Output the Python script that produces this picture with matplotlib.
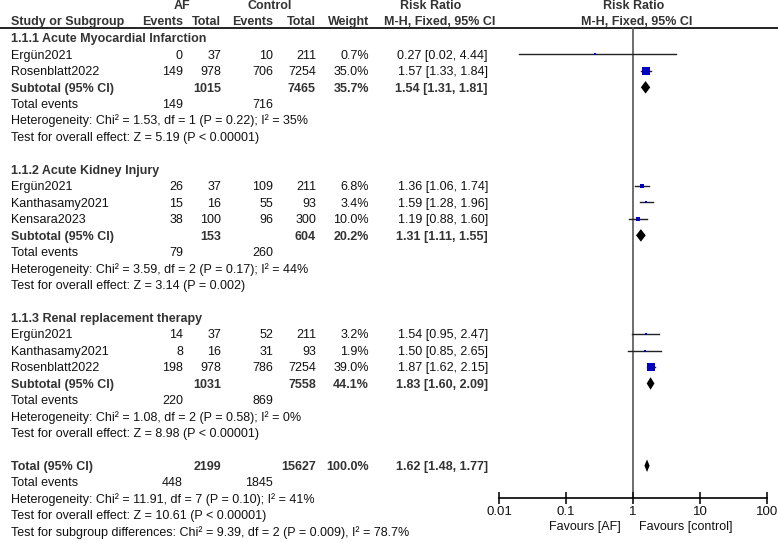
import matplotlib.pyplot as plt
from matplotlib.ticker import FixedLocator, FixedFormatter, NullLocator

plt.rcParams['font.family'] = ['Liberation Sans', 'DejaVu Sans']

# Data
group_titles = ["1.1.1 Acute Myocardial Infarction", "1.1.2 Acute Kidney Injury",
                "1.1.3 Renal replacement therapy"]
study_names = [["Ergün2021", "Rosenblatt2022"],
               ["Ergün2021", "Kanthasamy2021", "Kensara2023"],
               ["Ergün2021", "Kanthasamy2021", "Rosenblatt2022"]]
af_events = [[0, 149], [26, 15, 38], [14, 8, 198]]
af_total = [[37, 978], [37, 16, 100], [37, 16, 978]]
ctrl_events = [[10, 706], [109, 55, 96], [52, 31, 786]]
ctrl_total = [[211, 7254], [211, 93, 300], [211, 93, 7254]]
weights = [[0.7, 35.0], [6.8, 3.4, 10.0], [3.2, 1.9, 39.0]]
rr = [[0.27, 1.57], [1.36, 1.59, 1.19], [1.54, 1.50, 1.87]]
rr_lo = [[0.02, 1.33], [1.06, 1.28, 0.88], [0.95, 0.85, 1.62]]
rr_hi = [[4.44, 1.84], [1.74, 1.96, 1.60], [2.47, 2.65, 2.15]]

sub_af_total = [1015, 153, 1031]
sub_ctrl_total = [7465, 604, 7558]
sub_weight = [35.7, 20.2, 44.1]
sub_rr = [1.54, 1.31, 1.83]
sub_lo = [1.31, 1.11, 1.60]
sub_hi = [1.81, 1.55, 2.09]
sub_af_events = [149, 79, 220]
sub_ctrl_events = [716, 260, 869]
sub_het = ["Heterogeneity: Chi² = 1.53, df = 1 (P = 0.22); I² = 35%",
           "Heterogeneity: Chi² = 3.59, df = 2 (P = 0.17); I² = 44%",
           "Heterogeneity: Chi² = 1.08, df = 2 (P = 0.58); I² = 0%"]
sub_test = ["Test for overall effect: Z = 5.19 (P < 0.00001)",
            "Test for overall effect: Z = 3.14 (P = 0.002)",
            "Test for overall effect: Z = 8.98 (P < 0.00001)"]

tot_af_total, tot_ctrl_total, tot_weight = 2199, 15627, 100.0
tot_rr, tot_lo, tot_hi = 1.62, 1.48, 1.77
tot_af_events, tot_ctrl_events = 448, 1845
tot_notes = ["Heterogeneity: Chi² = 11.91, df = 7 (P = 0.10); I² = 41%",
             "Test for overall effect: Z = 10.61 (P < 0.00001)",
             "Test for subgroup differences: Chi² = 9.39, df = 2 (P = 0.009), I² = 78.7%"]

xticks = [0.01, 0.1, 1, 10, 100]
xtick_labels = ["0.01", "0.1", "1", "10", "100"]

# layout (pixels)
W, H = 778, 543
ROW0, STEP = 38, 16.45
FS = 9
TXT = '#111111'
BOLD = '#333333'
SQ = '#0000c0'
col_x = [183, 221, 273, 316, 369, 488]  # right edges of numeric columns


def px_row(py):
    return (py - ROW0) / STEP


fig = plt.figure(figsize=(W / 100, H / 100), dpi=100)
tab = fig.add_axes([0, 0, 1, 1])
tab.set_xlim(0, W)
tab.set_ylim(px_row(H), px_row(0))
tab.axis('off')

ax_l, ax_r, ax_top, ax_bot = 499, 767, 27, 498
fp = fig.add_axes([ax_l / W, (H - ax_bot) / H, (ax_r - ax_l) / W, (ax_bot - ax_top) / H])
fp.set_xscale('log')
fp.set_xlim(0.01, 100)
fp.set_ylim(px_row(ax_bot), px_row(ax_top))
fp.patch.set_alpha(0)
for s in ['top', 'left', 'right']:
    fp.spines[s].set_visible(False)
fp.spines['bottom'].set_linewidth(1.2)
fp.yaxis.set_major_locator(NullLocator())
fp.xaxis.set_major_locator(FixedLocator(xticks))
fp.xaxis.set_major_formatter(FixedFormatter(xtick_labels))
fp.xaxis.set_minor_locator(NullLocator())
fp.tick_params(axis='x', direction='inout', length=8, width=1.2, labelsize=FS + 0.5,
               pad=2, colors='#111111')
fp.axvline(1, color='#555555', lw=1.2, zorder=1)

BASE = 4.2 / STEP  # baseline offset below row centre


def txt(x, row, s, ha='right', bold=False, size=FS, color=None):
    tab.text(x, row + BASE, s, ha=ha, va='baseline', fontsize=size,
             fontweight='bold' if bold else 'normal',
             color=color or (BOLD if bold else TXT))


# headers
txt(182, px_row(5), "AF", ha='center', bold=True)
txt(270, px_row(5), "Control", ha='center', bold=True)
txt(431, px_row(5), "Risk Ratio", ha='center', bold=True)
txt(634, px_row(5), "Risk Ratio", ha='center', bold=True)
hr = px_row(21)
txt(11, hr, "Study or Subgroup", ha='left', bold=True)
for x, s in zip(col_x[:5], ["Events", "Total", "Events", "Total", "Weight"]):
    txt(x, hr, s, bold=True)
txt(440, hr, "M-H, Fixed, 95% CI", ha='center', bold=True)
txt(637, hr, "M-H, Fixed, 95% CI", ha='center', bold=True)
tab.plot([0, W], [px_row(27.5)] * 2, color='#111111', lw=1.3)

row = 0
for g in range(3):
    txt(11, row, group_titles[g], ha='left', bold=True)
    row += 1
    for i, name in enumerate(study_names[g]):
        txt(11, row, name, ha='left')
        vals = [af_events[g][i], af_total[g][i], ctrl_events[g][i], ctrl_total[g][i],
                f"{weights[g][i]:.1f}%",
                f"{rr[g][i]:.2f} [{rr_lo[g][i]:.2f}, {rr_hi[g][i]:.2f}]"]
        for x, v in zip(col_x, vals):
            txt(x, row, str(v))
        fp.plot([rr_lo[g][i], rr_hi[g][i]], [row, row], color='#222222', lw=1, zorder=2)
        side = max(2.0, 8.5 * (weights[g][i] / 39.0) ** 0.5)
        fp.plot(rr[g][i], row, marker='s', ms=side * 0.72, color=SQ, mew=0, zorder=3)
        row += 1
    txt(11, row, "Subtotal (95% CI)", ha='left', bold=True)
    for x, v in zip([col_x[1], col_x[3], col_x[4], col_x[5]],
                    [sub_af_total[g], sub_ctrl_total[g], f"{sub_weight[g]:.1f}%",
                     f"{sub_rr[g]:.2f} [{sub_lo[g]:.2f}, {sub_hi[g]:.2f}]"]):
        txt(x, row, str(v), bold=True)
    h = 0.38
    fp.fill([sub_lo[g], sub_rr[g], sub_hi[g], sub_rr[g]], [row, row - h, row, row + h],
            color='black', lw=0, zorder=3)
    row += 1
    txt(11, row, "Total events", ha='left')
    txt(col_x[0], row, str(sub_af_events[g]))
    txt(col_x[2], row, str(sub_ctrl_events[g]))
    row += 1
    txt(11, row, sub_het[g], ha='left')
    row += 1
    txt(11, row, sub_test[g], ha='left')
    row += 2

txt(11, row, "Total (95% CI)", ha='left', bold=True)
for x, v in zip([col_x[1], col_x[3], col_x[4], col_x[5]],
                [tot_af_total, tot_ctrl_total, f"{tot_weight:.1f}%",
                 f"{tot_rr:.2f} [{tot_lo:.2f}, {tot_hi:.2f}]"]):
    txt(x, row, str(v), bold=True)
fp.fill([tot_lo, tot_rr, tot_hi, tot_rr], [row, row - 0.38, row, row + 0.38],
        color='black', lw=0, zorder=3)
row += 1
txt(11, row, "Total events", ha='left')
txt(col_x[0], row, str(tot_af_events))
txt(col_x[2], row, str(tot_ctrl_events))
for note in tot_notes:
    row += 1
    txt(11, row, note, ha='left')

txt(621, px_row(526), "Favours [AF]")
txt(639, px_row(526), "Favours [control]", ha='left')

fig.savefig('out.png', dpi=100)
